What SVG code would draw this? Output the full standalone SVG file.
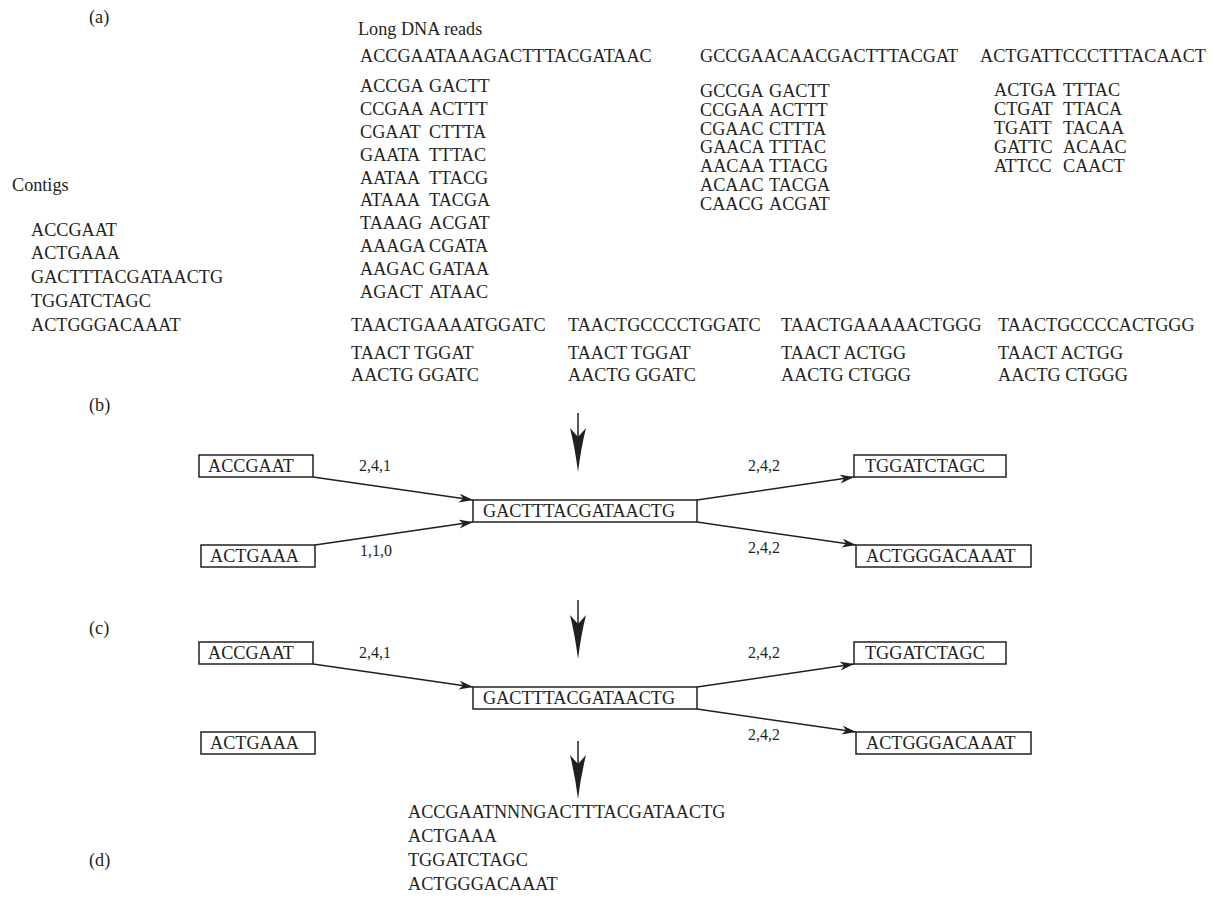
<svg xmlns="http://www.w3.org/2000/svg" width="1215" height="919" viewBox="0 0 1215 919">
<defs>
<style>
text{font-family:"Liberation Serif","Times New Roman",serif;font-size:18.2px;fill:#231f20}
.lbl{font-size:16px}
.box{fill:#fff;stroke:#231f20;stroke-width:1.5}
.edge{fill:none;stroke:#231f20;stroke-width:1.5;marker-end:url(#ah)}
.flow{fill:none;stroke:#231f20;stroke-width:1.5}
.head{fill:#231f20;stroke:none}
</style>
<marker id="ah" markerUnits="userSpaceOnUse" markerWidth="16" markerHeight="10" refX="14" refY="4.5" orient="auto">
<path d="M0,0 L14,4.5 L0,9 L4,4.5 Z" fill="#231f20"/>
</marker>
</defs>
<rect width="1215" height="919" fill="#fff"/>

<g id="panel-a">
<text x="89" y="23">(a)</text>
<text x="358" y="35">Long DNA reads</text>
<text x="360" y="62">ACCGAATAAAGACTTTACGATAAC</text>
<text x="700" y="62">GCCGAACAACGACTTTACGAT</text>
<text x="980" y="62">ACTGATTCCCTTTACAACT</text>
<g id="read1-kmers">
<text x="360" y="92">ACCGA</text><text x="429" y="92">GACTT</text>
<text x="360" y="115">CCGAA</text><text x="429" y="115">ACTTT</text>
<text x="360" y="138">CGAAT</text><text x="429" y="138">CTTTA</text>
<text x="360" y="161">GAATA</text><text x="429" y="161">TTTAC</text>
<text x="360" y="184">AATAA</text><text x="429" y="184">TTACG</text>
<text x="360" y="206">ATAAA</text><text x="429" y="206">TACGA</text>
<text x="360" y="229">TAAAG</text><text x="429" y="229">ACGAT</text>
<text x="360" y="252">AAAGA</text><text x="429" y="252">CGATA</text>
<text x="360" y="275">AAGAC</text><text x="429" y="275">GATAA</text>
<text x="360" y="298">AGACT</text><text x="429" y="298">ATAAC</text>
</g>
<g id="read2-kmers">
<text x="700" y="97">GCCGA</text><text x="769" y="97">GACTT</text>
<text x="700" y="116">CCGAA</text><text x="769" y="116">ACTTT</text>
<text x="700" y="135">CGAAC</text><text x="769" y="135">CTTTA</text>
<text x="700" y="153">GAACA</text><text x="769" y="153">TTTAC</text>
<text x="700" y="172">AACAA</text><text x="769" y="172">TTACG</text>
<text x="700" y="191">ACAAC</text><text x="769" y="191">TACGA</text>
<text x="700" y="210">CAACG</text><text x="769" y="210">ACGAT</text>
</g>
<g id="read3-kmers">
<text x="994" y="96">ACTGA</text><text x="1063" y="96">TTTAC</text>
<text x="994" y="115">CTGAT</text><text x="1063" y="115">TTACA</text>
<text x="994" y="134">TGATT</text><text x="1063" y="134">TACAA</text>
<text x="994" y="153">GATTC</text><text x="1063" y="153">ACAAC</text>
<text x="994" y="172">ATTCC</text><text x="1063" y="172">CAACT</text>
</g>
<g id="contigs">
<text x="12" y="191">Contigs</text>
<text x="31" y="236">ACCGAAT</text>
<text x="31" y="259">ACTGAAA</text>
<text x="31" y="283">GACTTTACGATAACTG</text>
<text x="31" y="307">TGGATCTAGC</text>
<text x="31" y="331">ACTGGGACAAAT</text>
</g>
<g id="short-reads">
<text x="351" y="331">TAACTGAAAATGGATC</text>
<text x="568" y="331">TAACTGCCCCTGGATC</text>
<text x="781" y="331">TAACTGAAAAACTGGG</text>
<text x="998" y="331">TAACTGCCCCACTGGG</text>
<text x="351" y="359">TAACT TGGAT</text>
<text x="568" y="359">TAACT TGGAT</text>
<text x="781" y="359">TAACT ACTGG</text>
<text x="998" y="359">TAACT ACTGG</text>
<text x="351" y="381">AACTG GGATC</text>
<text x="568" y="381">AACTG GGATC</text>
<text x="781" y="381">AACTG CTGGG</text>
<text x="998" y="381">AACTG CTGGG</text>
</g>
</g>

<g id="flow-arrows">
<line class="flow" x1="578" y1="413" x2="578" y2="445"/>
<path class="head" d="M578,472 Q575,448 570,428 L578,437 L586,428 Q581,448 578,472 Z"/>
<line class="flow" x1="578" y1="600" x2="578" y2="632"/>
<path class="head" d="M578,659 Q575,635 570,615 L578,624 L586,615 Q581,635 578,659 Z"/>
<line class="flow" x1="578" y1="741" x2="578" y2="773"/>
<path class="head" d="M578,799 Q575,775 570,755 L578,764 L586,755 Q581,775 578,799 Z"/>
</g>

<text x="89" y="411">(b)</text>
<g id="connectors-b">
<line class="edge" x1="313" y1="477" x2="473" y2="500"/>
<line class="edge" x1="315" y1="545" x2="473" y2="522"/>
<line class="edge" x1="697" y1="500" x2="854" y2="477"/>
<line class="edge" x1="697" y1="522" x2="856" y2="545"/>
<text class="lbl" x="359" y="471">2,4,1</text>
<text class="lbl" x="360" y="556">1,1,0</text>
<text class="lbl" x="748" y="471">2,4,2</text>
<text class="lbl" x="748" y="553">2,4,2</text>
</g>
<g id="b-ACCGAAT"><rect class="box" x="199" y="455" width="114" height="22"/><text x="208" y="472">ACCGAAT</text></g>
<g id="b-ACTGAAA"><rect class="box" x="201" y="545" width="114" height="22"/><text x="210" y="562">ACTGAAA</text></g>
<g id="b-GACT"><rect class="box" x="473" y="500" width="224" height="22"/><text x="483" y="517">GACTTTACGATAACTG</text></g>
<g id="b-TGGATCTAGC"><rect class="box" x="854" y="455" width="152" height="22"/><text x="865" y="472">TGGATCTAGC</text></g>
<g id="b-ACTGGGACAAAT"><rect class="box" x="856" y="545" width="175" height="22"/><text x="866" y="562">ACTGGGACAAAT</text></g>

<text x="89" y="634">(c)</text>
<g id="connectors-c">
<line class="edge" x1="313" y1="664" x2="473" y2="687"/>
<line class="edge" x1="697" y1="687" x2="854" y2="664"/>
<line class="edge" x1="697" y1="709" x2="856" y2="732"/>
<text class="lbl" x="359" y="658">2,4,1</text>
<text class="lbl" x="748" y="658">2,4,2</text>
<text class="lbl" x="748" y="740">2,4,2</text>
</g>
<g id="c-ACCGAAT"><rect class="box" x="199" y="642" width="114" height="22"/><text x="208" y="659">ACCGAAT</text></g>
<g id="c-ACTGAAA"><rect class="box" x="201" y="732" width="114" height="22"/><text x="210" y="749">ACTGAAA</text></g>
<g id="c-GACT"><rect class="box" x="473" y="687" width="224" height="22"/><text x="483" y="704">GACTTTACGATAACTG</text></g>
<g id="c-TGGATCTAGC"><rect class="box" x="854" y="642" width="152" height="22"/><text x="865" y="659">TGGATCTAGC</text></g>
<g id="c-ACTGGGACAAAT"><rect class="box" x="856" y="732" width="175" height="22"/><text x="866" y="749">ACTGGGACAAAT</text></g>

<g id="panel-d">
<text x="89" y="866">(d)</text>
<text x="408" y="818">ACCGAATNNNGACTTTACGATAACTG</text>
<text x="408" y="842">ACTGAAA</text>
<text x="408" y="866">TGGATCTAGC</text>
<text x="408" y="890">ACTGGGACAAAT</text>
</g>
</svg>
